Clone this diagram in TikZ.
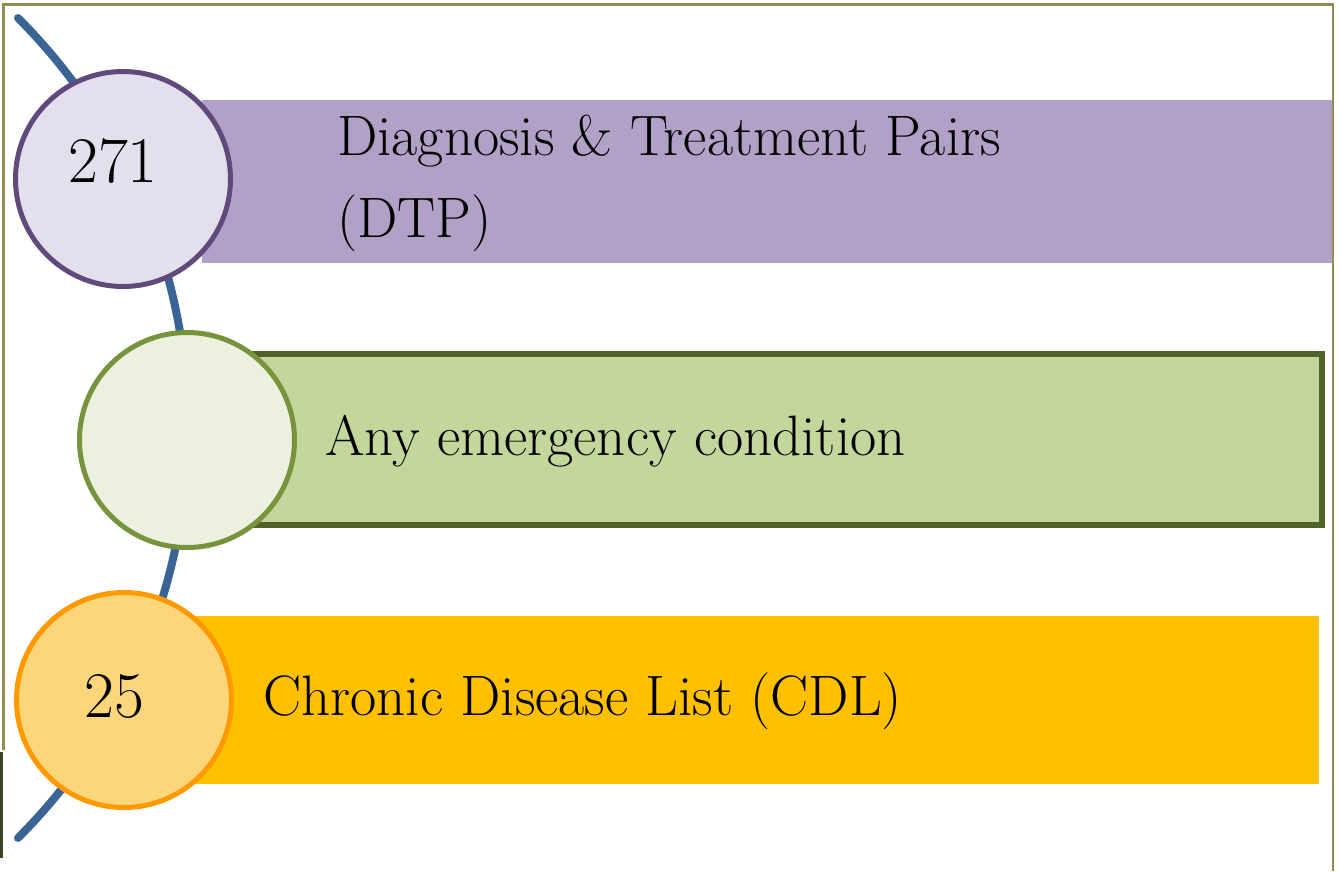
\documentclass[tikz,border=0pt]{standalone}
\usepackage{fontspec}
\begin{document}
\begin{tikzpicture}[x=1pt,y=1pt,
  bar/.style={draw=none,inner sep=0pt,outer sep=0pt},
  badge/.style={circle,inner sep=0pt,minimum size=215pt,line width=5pt},
  label/.style={anchor=base west,inner sep=0pt,text=black,font=\fontsize{57}{68}\selectfont},
  num/.style={anchor=base,inner sep=0pt,text=black,font=\fontsize{65}{76}\selectfont},
  spine/.style={draw=spineblue,line width=8pt,line cap=round}]
\definecolor{spineblue}{HTML}{3A6495}
\definecolor{frameolive}{HTML}{948A54}
\definecolor{purpleA}{HTML}{B2A1C7}
\definecolor{purpleB}{HTML}{E4DFEC}
\definecolor{purpleC}{HTML}{604A7B}
\definecolor{greenA}{HTML}{C3D69B}
\definecolor{greenB}{HTML}{EBF1DE}
\definecolor{greenC}{HTML}{77933C}
\definecolor{greenD}{HTML}{4F6228}
\definecolor{orangeA}{HTML}{FFC000}
\definecolor{orangeB}{HTML}{FDD57A}
\definecolor{orangeC}{HTML}{FF9900}
\definecolor{photo}{HTML}{3A4426}

\useasboundingbox (0,0) rectangle (1340,-871);
\fill[white] (0,0) rectangle (1340,-871);

% frame
\draw[frameolive,line width=2.5pt] (3.5,-750) -- (3.5,-4.5) -- (1333,-4.5) -- (1333,-871);
\fill[photo] (0,-752) rectangle (3,-858);

% curved spine behind the badges
\coordinate (arcTop) at (18,-18);
\draw[spine] (arcTop) arc[start angle=45.04,end angle=-45.04,radius=579.4] coordinate (arcBot);

% bars
\node[bar,fill=purpleA,minimum width=1130pt,minimum height=163pt,anchor=north west] (barA) at (202,-100) {};
\node[bar,draw=greenD,line width=5.5pt,fill=greenA,minimum width=1069pt,minimum height=171pt,anchor=north west] (barB) at (252.75,-353.75) {};
\node[bar,fill=orangeA,minimum width=1129pt,minimum height=168pt,anchor=north west] (barC) at (190,-616) {};

% badges
\node[badge,draw=purpleC,fill=purpleB] (c1) at (123,-179) {};
\node[badge,draw=greenC,fill=greenB] (c2) at (187,-440) {};
\node[badge,draw=orangeC,fill=orangeB] (c3) at (124,-700) {};

% texts
\node[num] (n1) at (113,-182) {271};
\node[num] (n3) at (114,-717) {25};
\node[label] (t1a) at (337,-155) {Diagnosis \& Treatment Pairs};
\node[label] (t1b) at (337,-237) {(DTP)};
\node[label] (t2) at (325,-455) {Any emergency condition};
\node[label] (t3) at (263,-715) {Chronic Disease List (CDL)};
\end{tikzpicture}
\end{document}
